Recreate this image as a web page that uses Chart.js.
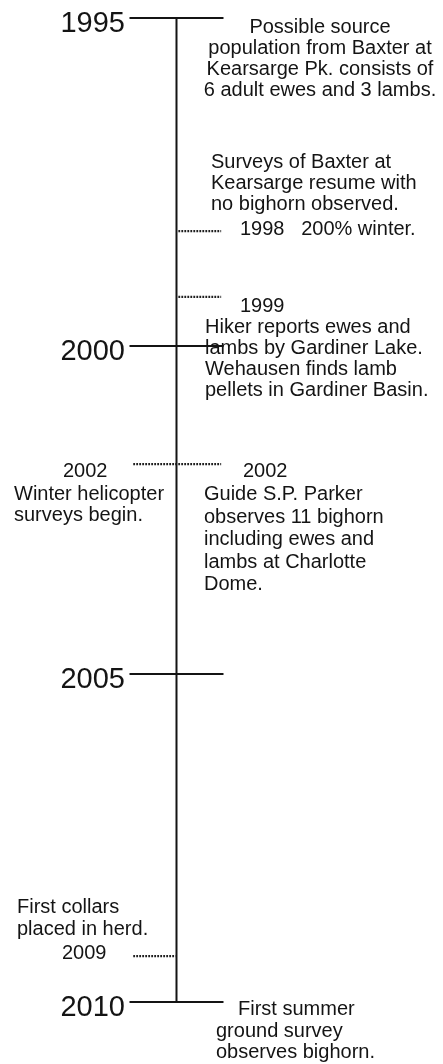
<!DOCTYPE html>
<html>
<head>
<meta charset="utf-8">
<script src="https://cdn.jsdelivr.net/npm/chart.js@4"></script>
<style>
  html, body { margin: 0; padding: 0; background: #fff; }
  #wrap { width: 443px; height: 1064px; }
</style>
</head>
<body>
<div id="wrap"><canvas id="timeline"></canvas></div>
<script>
// Timeline data
const majorYears = [1995, 2000, 2005, 2010];
const eventYears = [1998.25, 1999.25, 2001.8, 2009.3];
const eventLabels = ["1998", "1999", "2002", "2009"];
const eventSides = ["right", "right", "both", "left"];

const note1995 = ["Possible source", "population from Baxter at", "Kearsarge Pk. consists of", "6 adult ewes and 3 lambs."];
const note1998 = ["Surveys of Baxter at", "Kearsarge resume with", "no bighorn observed."];
const note1998b = "200% winter.";
const note1999 = ["Hiker reports ewes and", "lambs by Gardiner Lake.", "Wehausen finds lamb", "pellets in Gardiner Basin."];
const note2002Left = ["Winter helicopter", "surveys begin."];
const note2002Right = ["Guide S.P. Parker", "observes 11 bighorn", "including ewes and", "lambs at Charlotte", "Dome."];
const note2009 = ["First collars", "placed in herd."];
const note2010 = ["First summer", "ground survey", "observes bighorn."];

document.addEventListener("DOMContentLoaded", () => {
  const ink = "#141414";
  const dotInk = "#1e1e1e";
  const bodyFont = '20px "Liberation Sans", Arial, sans-serif';
  const yearFont = '29px "Liberation Sans", Arial, sans-serif';

  const datasets = [];

  // spine
  datasets.push({
    data: [{ x: 0, y: majorYears[0] }, { x: 0, y: majorYears[majorYears.length - 1] }],
    borderColor: ink,
    borderWidth: 2,
  });

  // major ticks
  majorYears.forEach((yr) => {
    datasets.push({
      data: [{ x: -1, y: yr }, { x: 1, y: yr }],
      borderColor: ink,
      borderWidth: 2,
    });
  });

  // dotted event ticks
  eventYears.forEach((yr, i) => {
    const side = eventSides[i];
    const from = side === "right" ? 0.04 : -0.92;
    const to = side === "left" ? -0.02 : 0.95;
    datasets.push({
      data: [{ x: from, y: yr }, { x: to, y: yr }],
      borderColor: dotInk,
      borderWidth: 2.2,
      borderDash: [1.8, 1.2],
    });
  });

  datasets.forEach((d) => {
    d.showLine = true;
    d.pointRadius = 0;
    d.clip = false;
    d.borderCapStyle = "butt";
  });

  function drawLines(ctx, lines, x, y0, step, align) {
    ctx.textAlign = align || "left";
    lines.forEach((t, i) => ctx.fillText(t, x, y0 + i * step));
  }

  // Labels and notes
  const notesPlugin = {
    id: "notes",
    afterDatasetsDraw(chart) {
      const ctx = chart.ctx;
      const ys = chart.scales.y;
      const py = (v) => ys.getPixelForValue(v);
      ctx.save();
      ctx.fillStyle = ink;
      ctx.textBaseline = "alphabetic";

      // major year labels
      ctx.font = yearFont;
      ctx.textAlign = "right";
      majorYears.forEach((yr) => ctx.fillText(String(yr), 125, py(yr) + 14));

      ctx.font = bodyFont;

      // 1995
      drawLines(ctx, note1995, 320, py(1995) + 15, 21, "center");

      // 1998
      let t = py(eventYears[0]);
      drawLines(ctx, note1998, 211, t - 63, 21);
      ctx.fillText(eventLabels[0] + "   " + note1998b, 240, t + 4);

      // 1999
      t = py(eventYears[1]);
      ctx.fillText(eventLabels[1], 240, t + 15);
      drawLines(ctx, note1999, 205, t + 36, 21);

      // 2002
      t = py(eventYears[2]);
      ctx.fillText(eventLabels[2], 63, t + 13);
      drawLines(ctx, note2002Left, 14, t + 36, 21);
      ctx.fillText(eventLabels[2], 243, t + 13);
      drawLines(ctx, note2002Right, 204, t + 36, 22.5);

      // 2009
      t = py(eventYears[3]);
      ctx.fillText(eventLabels[3], 62, t + 3);
      drawLines(ctx, note2009, 17, t - 43, 22);

      // 2010
      t = py(2010);
      ctx.fillText(note2010[0], 238, t + 13);
      drawLines(ctx, note2010.slice(1), 216, t + 35, 21);

      ctx.restore();
    },
  };

  new Chart(document.getElementById("timeline").getContext("2d"), {
    type: "scatter",
    data: { datasets: datasets },
    options: {
      responsive: true,
      maintainAspectRatio: false,
      animation: false,
      events: [],
      layout: { padding: { top: 18, bottom: 62, left: 0, right: 0 } },
      plugins: {
        legend: { display: false },
        tooltip: { enabled: false },
      },
      scales: {
        x: { type: "linear", display: false, min: -3.755, max: 5.67 },
        y: { type: "linear", display: false, reverse: true, min: 1995, max: 2010 },
      },
    },
    plugins: [notesPlugin],
  });
});
</script>
</body>
</html>
